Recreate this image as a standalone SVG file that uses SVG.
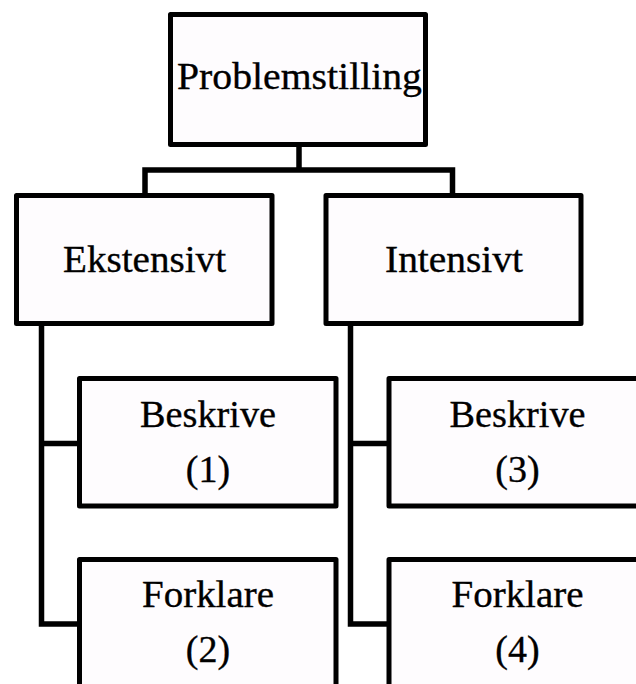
<svg xmlns="http://www.w3.org/2000/svg" width="636" height="684" viewBox="0 0 636 684">
<style>
.box{fill:#fefcfe;stroke:#000;stroke-width:5;stroke-linejoin:round}
.ln{fill:none;stroke:#000;stroke-width:5.5;stroke-linejoin:miter;stroke-linecap:square}
text{font-family:"Liberation Serif","Times New Roman",serif;font-size:38px;fill:#000;stroke:#000;stroke-width:0.35;text-anchor:middle}
</style>
<rect width="636" height="684" fill="#fff"/>
<g id="connectors">
<path class="ln" d="M299 145 V170 M145 170 H452.5 M145 170 V195 M452.5 170 V195"/>
<path class="ln" d="M41.5 324 V624 H79 M41.5 443.5 H79"/>
<path class="ln" d="M350.5 324 V624 H389 M350.5 443.5 H389"/>
</g>
<g id="problemstilling">
<rect class="box" x="170.5" y="14.5" width="255" height="130"/>
<text x="299.5" y="89" textLength="245" lengthAdjust="spacingAndGlyphs">Problemstilling</text>
</g>
<g id="ekstensivt">
<rect class="box" x="16.5" y="195.5" width="255.5" height="128"/>
<text x="144.5" y="272" textLength="163" lengthAdjust="spacingAndGlyphs">Ekstensivt</text>
</g>
<g id="intensivt">
<rect class="box" x="326" y="195.5" width="255" height="128"/>
<text x="454" y="272" textLength="138" lengthAdjust="spacingAndGlyphs">Intensivt</text>
</g>
<g id="beskrive1">
<rect class="box" x="79.5" y="378.5" width="256.5" height="127.5"/>
<text x="208" y="427" textLength="136" lengthAdjust="spacingAndGlyphs">Beskrive</text>
<text x="208" y="482">(1)</text>
</g>
<g id="forklare2">
<rect class="box" x="79.5" y="559.5" width="256.5" height="140"/>
<text x="208" y="607" textLength="132" lengthAdjust="spacingAndGlyphs">Forklare</text>
<text x="208" y="662">(2)</text>
</g>
<g id="beskrive3">
<rect class="box" x="389" y="378.5" width="256.5" height="127.5"/>
<text x="517.5" y="427" textLength="136" lengthAdjust="spacingAndGlyphs">Beskrive</text>
<text x="517.5" y="482">(3)</text>
</g>
<g id="forklare4">
<rect class="box" x="389" y="559.5" width="256.5" height="140"/>
<text x="517.5" y="607" textLength="132" lengthAdjust="spacingAndGlyphs">Forklare</text>
<text x="517.5" y="662">(4)</text>
</g>
</svg>
